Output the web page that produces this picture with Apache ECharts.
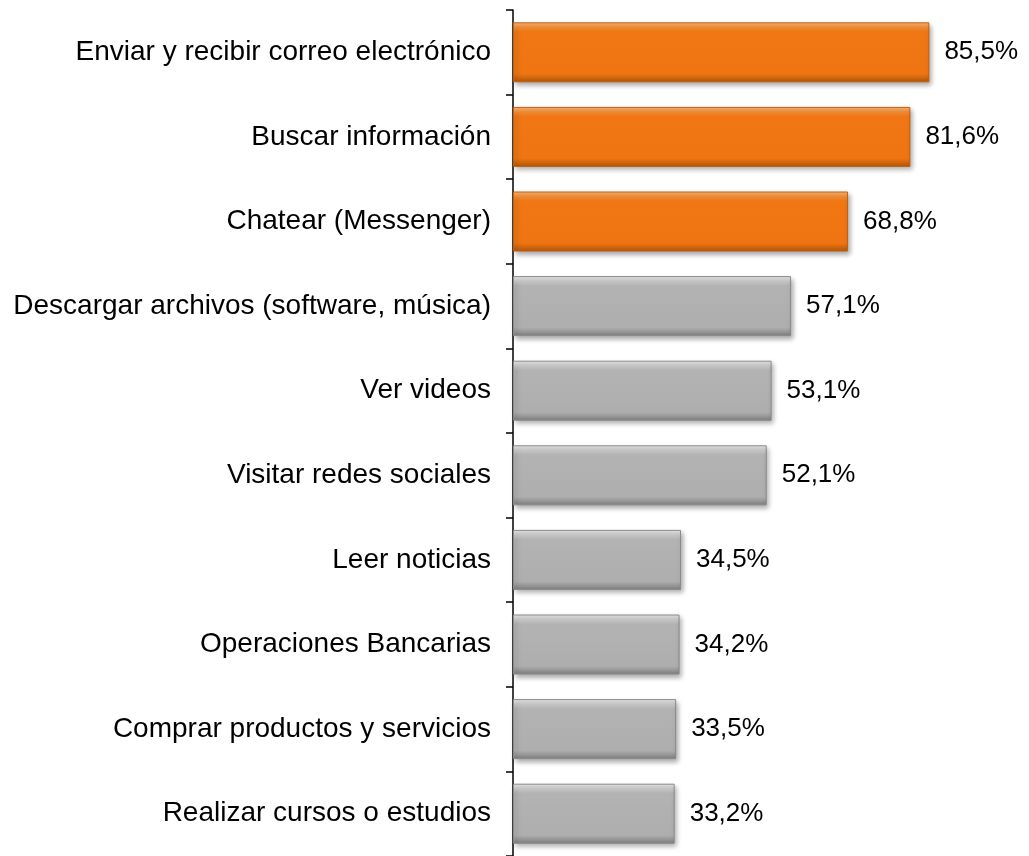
<!DOCTYPE html>
<html>
<head>
<meta charset="utf-8">
<script src="https://cdn.jsdelivr.net/npm/echarts@6/dist/echarts.min.js"></script>
<style>
  html, body { margin: 0; padding: 0; background: #fff; }
  #chart { width: 1029px; height: 856px; }
</style>
</head>
<body>
<div id="chart"></div>
<script>
var categorias = ['Enviar y recibir correo electrónico', 'Buscar información', 'Chatear (Messenger)',
  'Descargar archivos (software, música)', 'Ver videos', 'Visitar redes sociales', 'Leer noticias',
  'Operaciones Bancarias', 'Comprar productos y servicios', 'Realizar cursos o estudios'];
var valores = [85.5, 81.6, 68.8, 57.1, 53.1, 52.1, 34.5, 34.2, 33.5, 33.2];
var destacados = 3; // las tres primeras en naranja

var naranja = {
  type: 'linear', x: 0, y: 0, x2: 0, y2: 1,
  colorStops: [
    {offset: 0, color: '#FBB978'}, {offset: 0.1, color: '#F58B30'},
    {offset: 0.16, color: '#F07714'}, {offset: 0.86, color: '#EE7511'},
    {offset: 1, color: '#B0550B'}
  ]
};
var gris = {
  type: 'linear', x: 0, y: 0, x2: 0, y2: 1,
  colorStops: [
    {offset: 0, color: '#EAEAEA'}, {offset: 0.1, color: '#C8C8C8'},
    {offset: 0.16, color: '#B3B3B3'}, {offset: 0.86, color: '#AEAEAE'},
    {offset: 1, color: '#7E7E7E'}
  ]
};

var datos = [];
for (var i = 0; i < valores.length; i++) {
  var esNaranja = i < destacados;
  datos.push({
    value: valores[i],
    itemStyle: {
      color: esNaranja ? naranja : gris,
      borderColor: esNaranja ? '#C25F0E' : '#8A8A8A',
      borderWidth: 1
    }
  });
}

var myChart = echarts.init(document.getElementById('chart'));
var option = {
  animation: false,
  grid: { left: 513, top: 10, width: 487, height: 848 },
  xAxis: { type: 'value', min: 0, max: 100, show: false },
  yAxis: {
    type: 'category',
    inverse: true,
    data: categorias,
    axisLine: { show: true, lineStyle: { color: '#000', width: 1.5 } },
    axisTick: { show: true, length: 7, lineStyle: { color: '#000', width: 1.5 } },
    axisLabel: {
      margin: 22,
      color: '#000',
      fontSize: 28,
      fontFamily: 'Liberation Sans, Arial, sans-serif'
    }
  },
  series: [{
    type: 'bar',
    barWidth: 60,
    data: datos,
    itemStyle: {
      shadowColor: 'rgba(0,0,0,0.35)',
      shadowBlur: 5,
      shadowOffsetX: 2,
      shadowOffsetY: 3
    },
    label: {
      show: true,
      position: 'right',
      distance: 15,
      color: '#000',
      fontSize: 26,
      fontFamily: 'Liberation Sans, Arial, sans-serif',
      formatter: function (p) { return p.value.toFixed(1).replace('.', ',') + '%'; }
    }
  }]
};
myChart.setOption(option);
</script>
</body>
</html>
